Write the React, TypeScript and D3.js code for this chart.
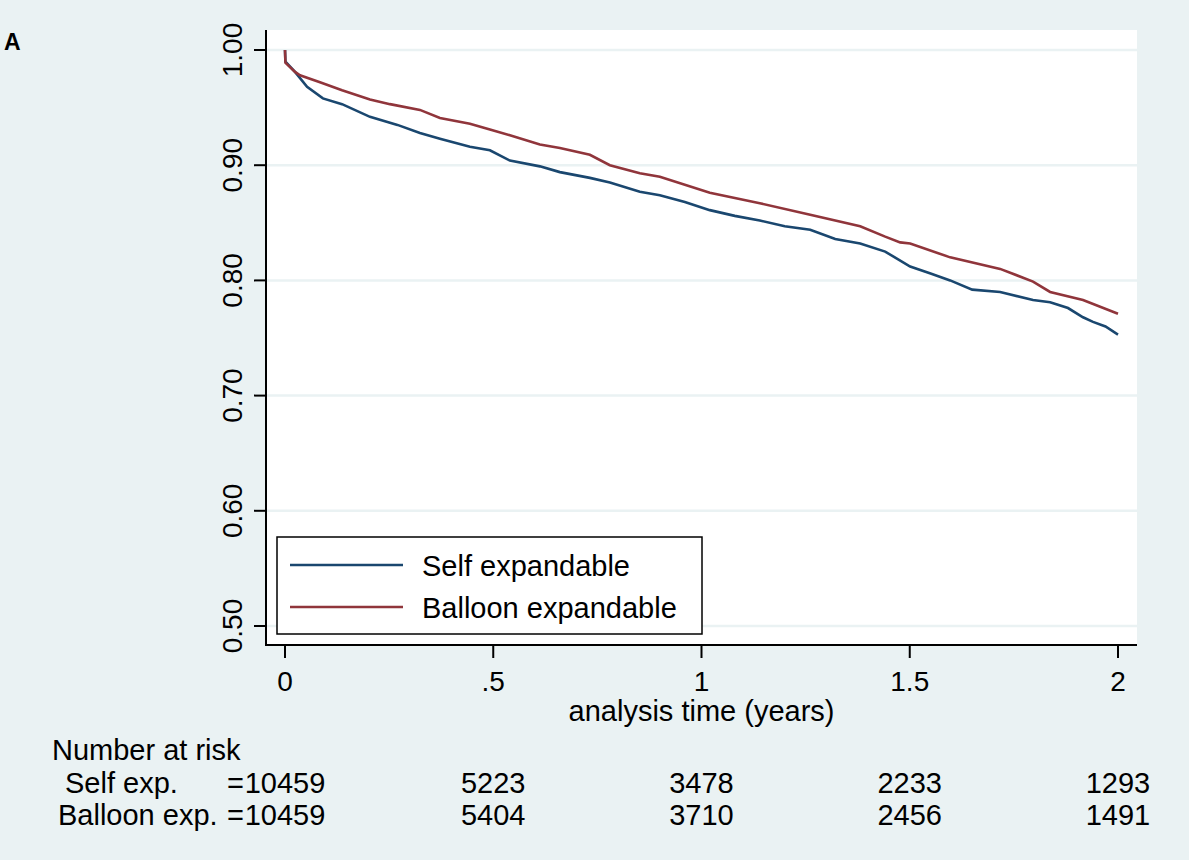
import React from 'react';
import * as d3 from 'd3';

// Kaplan-Meier estimates: [years, survival]
const selfExpandable: [number, number][] = [
  [0, 1.0], [0.001, 0.99], [0.024, 0.981], [0.053, 0.968], [0.091, 0.958],
  [0.137, 0.953], [0.204, 0.942], [0.27, 0.935], [0.324, 0.928], [0.372, 0.923],
  [0.444, 0.916], [0.492, 0.913], [0.54, 0.904], [0.612, 0.899], [0.66, 0.894],
  [0.732, 0.889], [0.78, 0.885], [0.852, 0.877], [0.9, 0.874], [0.96, 0.868],
  [1.02, 0.861], [1.08, 0.856], [1.14, 0.852], [1.2, 0.847], [1.261, 0.844],
  [1.321, 0.836], [1.381, 0.832], [1.441, 0.825], [1.501, 0.812], [1.55, 0.806],
  [1.597, 0.8], [1.65, 0.792], [1.717, 0.79], [1.796, 0.783], [1.837, 0.781],
  [1.88, 0.776], [1.916, 0.768], [1.94, 0.764], [1.97, 0.76], [2.0, 0.753],
];

const balloonExpandable: [number, number][] = [
  [0, 1.0], [0.001, 0.989], [0.024, 0.981], [0.036, 0.978], [0.084, 0.972],
  [0.137, 0.965], [0.204, 0.957], [0.252, 0.953], [0.324, 0.948], [0.372, 0.941],
  [0.444, 0.936], [0.492, 0.931], [0.54, 0.926], [0.612, 0.918], [0.66, 0.915],
  [0.732, 0.909], [0.78, 0.9], [0.852, 0.893], [0.9, 0.89], [1.02, 0.876],
  [1.14, 0.867], [1.261, 0.857], [1.381, 0.847], [1.441, 0.838], [1.477, 0.833],
  [1.501, 0.832], [1.597, 0.82], [1.717, 0.81], [1.796, 0.799], [1.837, 0.79],
  [1.916, 0.783], [2.0, 0.771],
];

const yTicks = [0.5, 0.6, 0.7, 0.8, 0.9, 1.0];
const xTicks = [0, 0.5, 1, 1.5, 2];
const xTickLabels = ['0', '.5', '1', '1.5', '2'];

const riskGroups = ['Self exp.', 'Balloon exp.'];
const riskSelf = [10459, 5223, 3478, 2233, 1293];
const riskBalloon = [10459, 5404, 3710, 2456, 1491];

const seriesNames = ['Self expandable', 'Balloon expandable'];
const seriesColors = ['#1a476f', '#90353b'];

const W = 1189;
const H = 860;
const BG = '#eaf2f3';
const FONT = "'Liberation Sans', Arial, sans-serif";

const App: React.FC = () => {
  const plot = { left: 266, right: 1137, top: 30, bottom: 645 };

  const x = d3.scaleLinear().domain([0, 2]).range([285, 1118]);
  const y = d3.scaleLinear().domain([0.5, 1.0]).range([626, 50]);

  const line = d3.line<[number, number]>()
    .x(d => x(d[0]))
    .y(d => y(d[1]))
    .curve(d3.curveLinear);

  const series = [selfExpandable, balloonExpandable];
  const riskRows = [riskSelf, riskBalloon];
  const rowY = [793, 825];

  return (
    <div style={{ position: 'absolute', left: 0, top: 0 }}>
      <svg width={W} height={H} style={{ display: 'block', fontFamily: FONT }}>
        <rect width={W} height={H} fill={BG} />
        <text x={4} y={50} fontSize={23} fontWeight="bold" fill="#000">A</text>

        {/* plot region */}
        <rect x={plot.left} y={plot.top} width={plot.right - plot.left} height={plot.bottom - plot.top} fill="#fff" />

        {/* grid */}
        {yTicks.map(t => (
          <line key={'g' + t} x1={plot.left} x2={plot.right} y1={y(t)} y2={y(t)} stroke={BG} strokeWidth={2.5} />
        ))}

        {/* curves */}
        {series.map((s, i) => (
          <path key={'s' + i} d={line(s) || ''} fill="none" stroke={seriesColors[i]} strokeWidth={2.6} />
        ))}

        {/* y axis */}
        <line x1={plot.left} x2={plot.left} y1={plot.top} y2={plot.bottom + 1} stroke="#000" strokeWidth={2} />
        {yTicks.map(t => (
          <g key={'yt' + t}>
            <line x1={254} x2={plot.left} y1={y(t)} y2={y(t)} stroke="#000" strokeWidth={2} />
            <text transform={`translate(242,${y(t)}) rotate(-90)`} textAnchor="middle" fontSize={28} fill="#000">
              {d3.format('.2f')(t)}
            </text>
          </g>
        ))}

        {/* x axis */}
        <line x1={plot.left - 1} x2={plot.right} y1={plot.bottom} y2={plot.bottom} stroke="#000" strokeWidth={2} />
        {xTicks.map((t, i) => (
          <g key={'xt' + t}>
            <line x1={x(t)} x2={x(t)} y1={plot.bottom} y2={658} stroke="#000" strokeWidth={2} />
            <text x={x(t)} y={691} textAnchor="middle" fontSize={28} fill="#000">{xTickLabels[i]}</text>
          </g>
        ))}
        <text x={(plot.left + plot.right) / 2} y={721} textAnchor="middle" fontSize={29} fill="#000">
          analysis time (years)
        </text>

        {/* legend */}
        <rect x={277} y={537} width={425} height={97} fill="#fff" stroke="#000" strokeWidth={1.5} />
        {seriesNames.map((n, i) => (
          <g key={'l' + i}>
            <line x1={290} x2={403} y1={565 + i * 42} y2={565 + i * 42} stroke={seriesColors[i]} strokeWidth={2.6} />
            <text x={422} y={576 + i * 42} fontSize={29} fill="#000">{n}</text>
          </g>
        ))}

        {/* number at risk */}
        <text x={52} y={760} fontSize={29} fill="#000">Number at risk</text>
        {riskRows.map((row, r) => (
          <g key={'r' + r}>
            <text x={r === 0 ? 65 : 58} y={rowY[r]} fontSize={29} fill="#000">{riskGroups[r]}</text>
            {row.map((v, i) => (
              <text key={i} x={x(xTicks[i])} y={rowY[r]} textAnchor="middle" fontSize={29} fill="#000">
                {i === 0 ? <tspan textAnchor="end" x={x(xTicks[i]) - 41}>=</tspan> : null}
                {i === 0 ? <tspan x={x(xTicks[i])}>{v}</tspan> : v}
              </text>
            ))}
          </g>
        ))}
      </svg>
    </div>
  );
};

export default App;
